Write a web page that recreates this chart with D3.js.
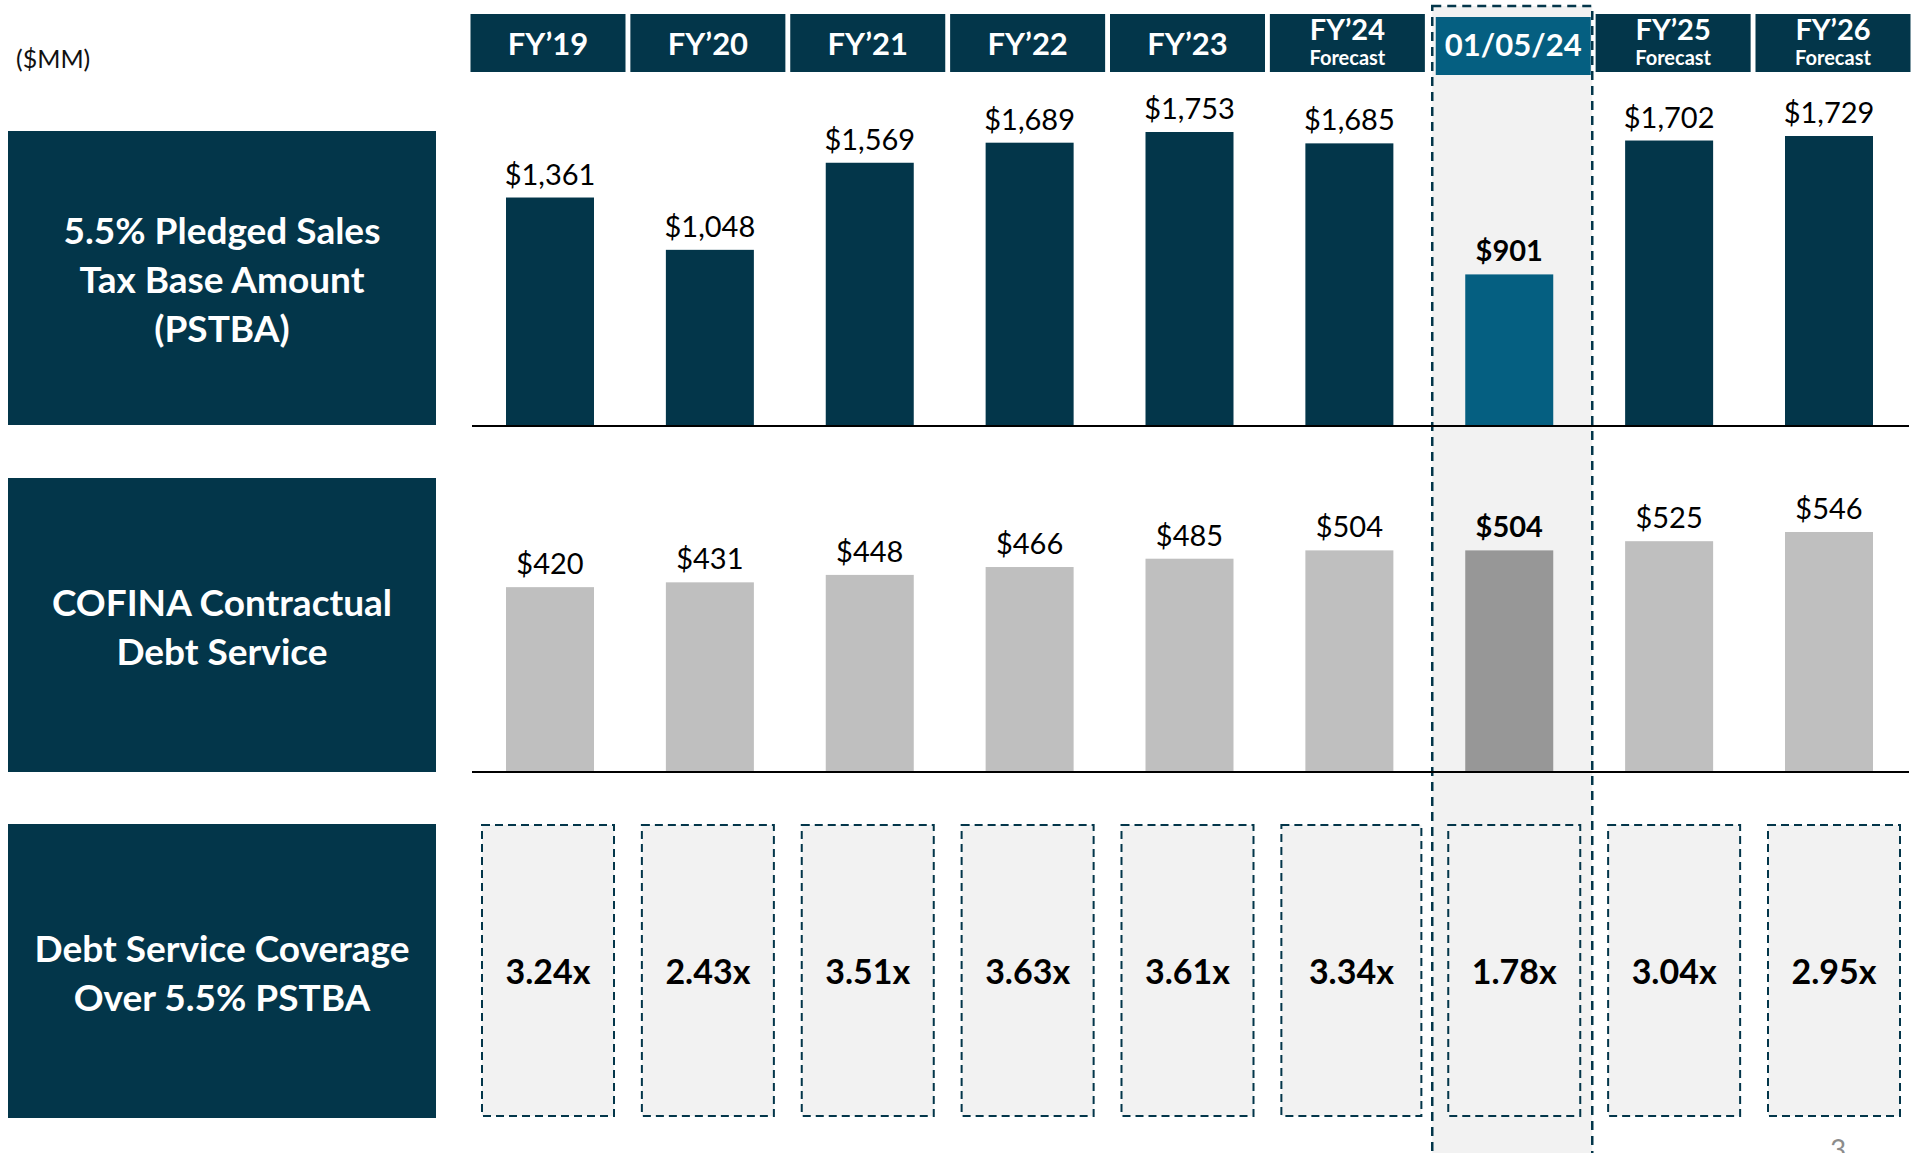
<!DOCTYPE html>
<html>
<head>
<meta charset="utf-8">
<script src="https://cdn.jsdelivr.net/npm/d3@7"></script>
<style>
  body { margin: 0; background: #fff; }
  svg { display: block; font-family: Lato, "Open Sans", sans-serif; }
</style>
</head>
<body>
<div id="wrapper"></div>
<script>
// data
const categories = ["FY’19", "FY’20", "FY’21", "FY’22", "FY’23", "FY’24", "01/05/24", "FY’25", "FY’26"]
const subLabels = ["", "", "", "", "", "Forecast", "", "Forecast", "Forecast"]
const pstba = [1361, 1048, 1569, 1689, 1753, 1685, 901, 1702, 1729]
const debtService = [420, 431, 448, 466, 485, 504, 504, 525, 546]
const coverage = [3.24, 2.43, 3.51, 3.63, 3.61, 3.34, 1.78, 3.04, 2.95]
const highlight = "01/05/24"
const rowLabels = [
  ["5.5% Pledged Sales", "Tax Base Amount", "(PSTBA)"],
  ["COFINA Contractual", "Debt Service"],
  ["Debt Service Coverage", "Over 5.5% PSTBA"],
]

function drawChart() {
  const dimensions = {
    width: 1913,
    height: 1153,
  }
  const colors = {
    navy: "#03364a",
    blue: "#055f81",
    grey: "#bfbfbf",
    greyDark: "#979797",
    shade: "#f2f2f2",
  }

  const svg = d3.select("#wrapper")
    .append("svg")
      .attr("width", dimensions.width)
      .attr("height", dimensions.height)

  const x = d3.scalePoint()
    .domain(categories)
    .range([550, 1829])
  const barWidth = 88
  const isHi = d => d === highlight
  const hiX = x(highlight)
  // columns right of the FY'24 one sit a few px further right
  const shift = (i, before, after) => i >= 6 ? after : before

  // highlight column (dashed)
  svg.append("rect")
      .attr("x", hiX - 77)
      .attr("y", 6)
      .attr("width", 160)
      .attr("height", 1170)
      .attr("fill", colors.shade)
      .attr("stroke", colors.navy)
      .attr("stroke-width", 2.5)
      .attr("stroke-dasharray", "9 6")

  svg.append("text")
      .attr("x", 16)
      .attr("y", 68)
      .attr("font-size", 25)
      .attr("fill", "#111")
      .text("($MM)")

  // headers
  const headers = svg.append("g")
    .selectAll("g")
    .data(categories)
    .join("g")
      .attr("transform", (d, i) => `translate(${x(d) + shift(i, -2, 4)}, 0)`)
  headers.append("rect")
      .attr("x", -77.5)
      .attr("y", (d) => isHi(d) ? 17 : 14)
      .attr("width", 155)
      .attr("height", 58)
      .attr("fill", d => isHi(d) ? colors.blue : colors.navy)
  headers.append("text")
      .attr("text-anchor", "middle")
      .attr("y", (d, i) => subLabels[i] ? 40 : (isHi(d) ? 56 : 55))
      .attr("font-size", (d, i) => subLabels[i] ? 29 : 31)
      .attr("font-weight", 700)
      .attr("fill", "#fff")
      .text(d => d)
  headers.append("text")
      .attr("text-anchor", "middle")
      .attr("y", 65)
      .attr("font-size", 20)
      .attr("font-weight", 700)
      .attr("fill", "#fff")
      .text((d, i) => subLabels[i])

  // row label boxes
  const boxTops = [131, 478, 824]
  const boxHeight = 294
  rowLabels.forEach((lines, r) => {
    svg.append("rect")
        .attr("x", 8)
        .attr("y", boxTops[r])
        .attr("width", 428)
        .attr("height", boxHeight)
        .attr("fill", colors.navy)
    const cy = boxTops[r] + boxHeight / 2 + 2
    svg.append("text")
        .attr("text-anchor", "middle")
        .attr("font-size", 37)
        .attr("font-weight", 700)
        .attr("fill", "#fff")
      .selectAll("tspan")
      .data(lines)
      .join("tspan")
        .attr("x", 222)
        .attr("y", (d, i) => cy + (i - (lines.length - 1) / 2) * 49 + 13)
        .text(d => d)
  })

  // top panel: PSTBA bars
  const yTop = d3.scaleLinear()
    .domain([0, 1753])
    .range([425, 132])
  const topData = categories.map((c, i) => ({ c, v: pstba[i] }))
  svg.append("g")
    .selectAll("rect")
    .data(topData)
    .join("rect")
      .attr("x", d => x(d.c) - barWidth / 2)
      .attr("y", d => yTop(d.v))
      .attr("width", barWidth)
      .attr("height", d => yTop(0) - yTop(d.v))
      .attr("fill", d => isHi(d.c) ? colors.blue : colors.navy)
  svg.append("g")
    .selectAll("text")
    .data(topData)
    .join("text")
      .attr("x", d => x(d.c))
      .attr("y", d => yTop(d.v) - 13)
      .attr("text-anchor", "middle")
      .attr("font-size", 29)
      .attr("font-weight", d => isHi(d.c) ? 700 : 400)
      .attr("fill", "#000")
      .text(d => "$" + d3.format(",")(d.v))

  // middle panel: debt service bars
  const yMid = d3.scaleLinear()
    .domain([0, 546])
    .range([771, 532])
  const midData = categories.map((c, i) => ({ c, v: debtService[i] }))
  svg.append("g")
    .selectAll("rect")
    .data(midData)
    .join("rect")
      .attr("x", d => x(d.c) - barWidth / 2)
      .attr("y", d => yMid(d.v))
      .attr("width", barWidth)
      .attr("height", d => yMid(0) - yMid(d.v))
      .attr("fill", d => isHi(d.c) ? colors.greyDark : colors.grey)
  svg.append("g")
    .selectAll("text")
    .data(midData)
    .join("text")
      .attr("x", d => x(d.c))
      .attr("y", d => yMid(d.v) - 13)
      .attr("text-anchor", "middle")
      .attr("font-size", 29)
      .attr("font-weight", d => isHi(d.c) ? 700 : 400)
      .attr("fill", "#000")
      .text(d => "$" + d3.format(",")(d.v))

  // baselines
  ;[yTop(0), yMid(0)].forEach(y => {
    svg.append("line")
        .attr("x1", 472)
        .attr("x2", 1909)
        .attr("y1", y + 1)
        .attr("y2", y + 1)
        .attr("stroke", "#000")
        .attr("stroke-width", 2)
  })

  // coverage boxes
  const cov = svg.append("g")
    .selectAll("g")
    .data(categories.map((c, i) => ({ c, v: coverage[i] })))
    .join("g")
      .attr("transform", (d, i) => `translate(${x(d.c) + shift(i, i === 5 ? 2 : -2, 5)}, 0)`)
  cov.append("rect")
      .attr("x", (d, i) => i === 5 ? -70 : -66)
      .attr("y", 825)
      .attr("width", (d, i) => i === 5 ? 140 : 132)
      .attr("height", 291)
      .attr("fill", colors.shade)
      .attr("stroke", colors.navy)
      .attr("stroke-width", 2)
      .attr("stroke-dasharray", "8 5")
  cov.append("text")
      .attr("text-anchor", "middle")
      .attr("y", 984)
      .attr("font-size", 34)
      .attr("font-weight", 700)
      .attr("fill", "#000")
      .text(d => d3.format(".2f")(d.v) + "x")

  // page number (cut by the bottom edge, as in the slide)
  svg.append("text")
      .attr("x", 1838)
      .attr("y", 1160)
      .attr("text-anchor", "middle")
      .attr("font-size", 28)
      .attr("fill", "#8c8c8c")
      .text("3")
}
drawChart()
</script>
</body>
</html>
